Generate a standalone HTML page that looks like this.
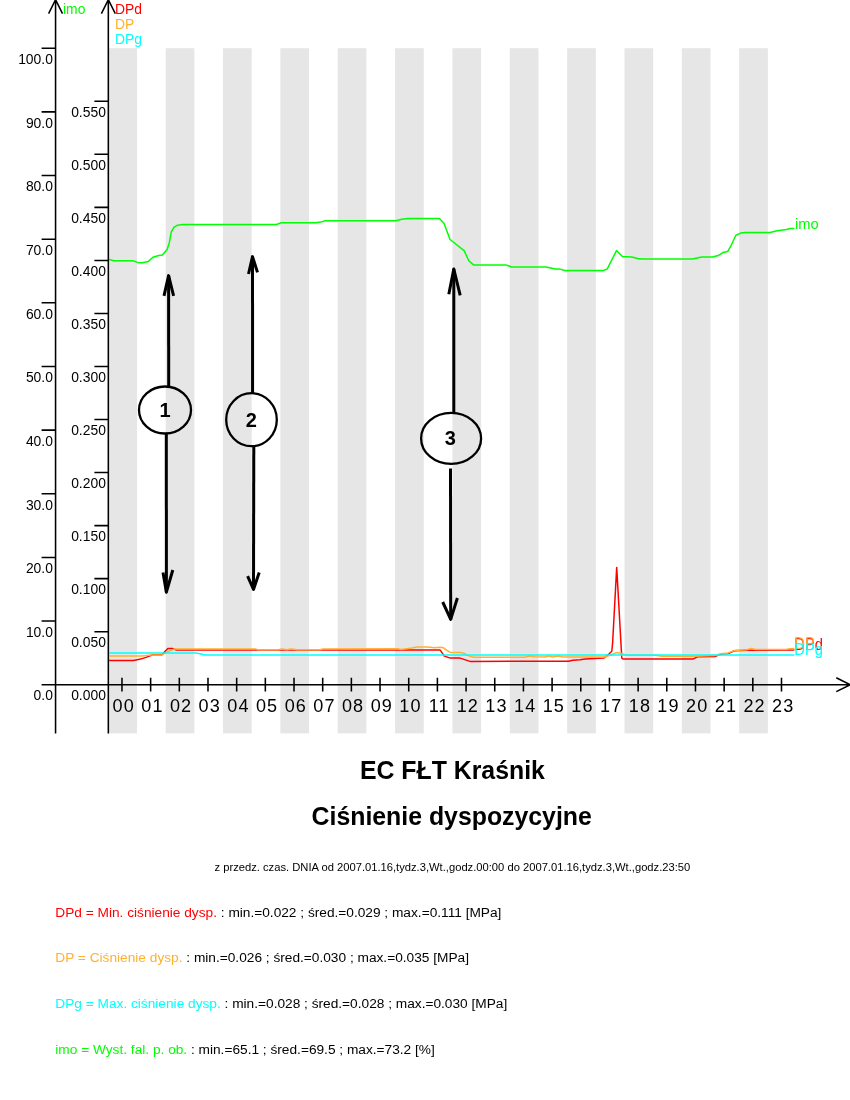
<!DOCTYPE html>
<html lang="pl"><head><meta charset="utf-8"><title>EC FŁT Kraśnik - Ciśnienie dyspozycyjne</title>
<style>
html,body{margin:0;padding:0;background:#fff;}
body{width:850px;height:1100px;overflow:hidden;}
svg{display:block;}
text{font-family:"Liberation Sans",sans-serif;}
.ax{font-size:13.89px;fill:#000;}
.hr{font-size:18.06px;letter-spacing:1.1px;fill:#000;text-anchor:middle;}
.t{font-size:24.85px;font-weight:bold;text-anchor:middle;fill:#000;}
.s{font-size:11.19px;text-anchor:middle;fill:#000;}
.l{font-size:13.7px;fill:#000;}
.n{font-size:20px;font-weight:bold;text-anchor:middle;fill:#000;}
.k{stroke:#000;fill:none;}
</style></head><body>
<svg width="850" height="1100" viewBox="0 0 850 1100">
<rect width="850" height="1100" fill="#fff"/>

<g fill="#e6e6e6">
<rect x="108.33" y="48.2" width="28.68" height="685.2"/>
<rect x="165.68" y="48.2" width="28.68" height="685.2"/>
<rect x="223.03" y="48.2" width="28.68" height="685.2"/>
<rect x="280.38" y="48.2" width="28.68" height="685.2"/>
<rect x="337.73" y="48.2" width="28.68" height="685.2"/>
<rect x="395.08" y="48.2" width="28.68" height="685.2"/>
<rect x="452.43" y="48.2" width="28.68" height="685.2"/>
<rect x="509.78" y="48.2" width="28.68" height="685.2"/>
<rect x="567.13" y="48.2" width="28.68" height="685.2"/>
<rect x="624.48" y="48.2" width="28.68" height="685.2"/>
<rect x="681.83" y="48.2" width="28.68" height="685.2"/>
<rect x="739.18" y="48.2" width="28.68" height="685.2"/>
</g>
<g class="k" stroke-width="1.55">
<path d="M55.56,733.4V0M48.6,13.6L55.56,-0.3L62.5,13.6"/>
<path d="M108.33,733.4V0M101.4,13.6L108.33,-0.3L115.3,13.6"/>
<path d="M41.6,684.72H850.3M836.3,677.8L850.3,684.72L836.3,691.6"/>
<path d="M41.6,621.07H55.56M41.6,557.42H55.56M41.6,493.77H55.56M41.6,430.12H55.56M41.6,366.47H55.56M41.6,302.82H55.56M41.6,239.17H55.56M41.6,175.52H55.56M41.6,111.87H55.56M41.6,48.22H55.56M94.4,631.68H108.33M94.4,578.64H108.33M94.4,525.60H108.33M94.4,472.56H108.33M94.4,419.52H108.33M94.4,366.48H108.33M94.4,313.44H108.33M94.4,260.40H108.33M94.4,207.36H108.33M94.4,154.32H108.33M94.4,101.28H108.33M121.97,677.8V691.6M150.64,677.8V691.6M179.32,677.8V691.6M207.99,677.8V691.6M236.67,677.8V691.6M265.34,677.8V691.6M294.02,677.8V691.6M322.69,677.8V691.6M351.37,677.8V691.6M380.04,677.8V691.6M408.72,677.8V691.6M437.39,677.8V691.6M466.07,677.8V691.6M494.74,677.8V691.6M523.42,677.8V691.6M552.09,677.8V691.6M580.77,677.8V691.6M609.44,677.8V691.6M638.12,677.8V691.6M666.79,677.8V691.6M695.47,677.8V691.6M724.14,677.8V691.6M752.82,677.8V691.6M781.49,677.8V691.6"/>
</g>
<g class="ax" text-anchor="end">
<text x="52.9" y="700.4">0.0</text>
<text x="52.9" y="636.8">10.0</text>
<text x="52.9" y="573.1">20.0</text>
<text x="52.9" y="509.5">30.0</text>
<text x="52.9" y="445.8">40.0</text>
<text x="52.9" y="382.2">50.0</text>
<text x="52.9" y="318.5">60.0</text>
<text x="52.9" y="254.9">70.0</text>
<text x="52.9" y="191.2">80.0</text>
<text x="52.9" y="127.6">90.0</text>
<text x="52.9" y="63.9">100.0</text>
<text x="105.9" y="700.4">0.000</text>
<text x="105.9" y="647.4">0.050</text>
<text x="105.9" y="594.3">0.100</text>
<text x="105.9" y="541.3">0.150</text>
<text x="105.9" y="488.3">0.200</text>
<text x="105.9" y="435.2">0.250</text>
<text x="105.9" y="382.2">0.300</text>
<text x="105.9" y="329.1">0.350</text>
<text x="105.9" y="276.1">0.400</text>
<text x="105.9" y="223.1">0.450</text>
<text x="105.9" y="170.0">0.500</text>
<text x="105.9" y="117.0">0.550</text>
</g>
<g class="hr">
<text x="123.7" y="711.6">00</text>
<text x="152.4" y="711.6">01</text>
<text x="181.1" y="711.6">02</text>
<text x="209.7" y="711.6">03</text>
<text x="238.4" y="711.6">04</text>
<text x="267.1" y="711.6">05</text>
<text x="295.8" y="711.6">06</text>
<text x="324.4" y="711.6">07</text>
<text x="353.1" y="711.6">08</text>
<text x="381.8" y="711.6">09</text>
<text x="410.5" y="711.6">10</text>
<text x="439.1" y="711.6">11</text>
<text x="467.8" y="711.6">12</text>
<text x="496.5" y="711.6">13</text>
<text x="525.2" y="711.6">14</text>
<text x="553.8" y="711.6">15</text>
<text x="582.5" y="711.6">16</text>
<text x="611.2" y="711.6">17</text>
<text x="639.9" y="711.6">18</text>
<text x="668.5" y="711.6">19</text>
<text x="697.2" y="711.6">20</text>
<text x="725.9" y="711.6">21</text>
<text x="754.6" y="711.6">22</text>
<text x="783.2" y="711.6">23</text>
</g>
<g class="ax"><text x="63" y="13.6" fill="#00ff00" style="fill:#00ff00">imo</text><text x="115.1" y="13.6" style="fill:#ff0000">DPd</text><text x="115.1" y="28.7" style="fill:#ffb030">DP</text><text x="115.1" y="43.7" style="fill:#00ffff">DPg</text></g>
<g fill="none" stroke-width="1.5" stroke-linejoin="round">
<polyline stroke="#ff0000" points="109.0,660.4 133.5,660.4 140.6,659.1 145.9,657.4 152.9,654.7 161.8,654.7 164.4,652.1 167.9,648.4 172.4,648.4 175.9,649.9 440.0,649.9 444.4,656.1 449.7,657.9 459.4,657.9 470.0,661.4 568.5,661.3 572.9,660.3 580.0,659.8 585.3,659.1 594.1,658.4 603.8,658.1 608.2,654.7 611.8,651.2 612.6,643.2 616.7,567.4 621.8,658.2 623.2,659.1 692.9,659.1 697.4,656.8 715.0,656.5 720.3,654.4 728.2,653.5 734.4,650.8 746.8,650.3 794.4,650.1"/>
<polyline stroke="#ffb030" points="109.0,655.9 142.4,655.9 151.2,655.1 162.6,654.7 168.8,651.2 174.1,649.1 255.9,649.1 258.0,649.8 278.0,649.8 282.0,649.0 287.0,649.8 291.0,649.0 297.0,649.8 320.0,649.8 323.0,649.0 397.6,648.7 401.2,649.4 411.8,648.0 417.0,647.1 427.6,647.1 434.7,647.8 440.0,647.3 443.5,647.8 447.0,650.3 450.6,652.6 460.3,652.6 464.7,653.6 468.2,655.6 473.5,657.2 524.7,657.2 529.7,655.9 534.1,656.8 544.7,657.0 549.1,656.1 552.6,657.0 557.9,656.1 563.2,657.0 604.7,657.0 611.8,654.7 616.7,652.4 622.4,653.8 625.9,655.2 655.0,655.2 662.0,656.3 693.0,656.3 715.0,655.6 720.3,653.8 728.2,652.9 734.4,650.6 746.8,649.8 751.2,648.4 755.6,649.5 785.6,649.4 790.0,648.7 794.4,648.7"/>
<polyline stroke="#00ffff" points="109.0,652.9 195.3,652.9 198.8,653.6 205.0,655.0 794.4,655.0"/>
<polyline stroke="#00ff00" points="109.0,259.5 114.1,260.7 132.9,260.7 137.6,262.4 142.4,262.8 148.2,261.6 152.9,257.2 158.8,255.5 162.4,255.1 167.1,249.4 169.4,242.4 171.3,231.8 174.1,227.1 177.6,225.2 182.4,224.5 276.5,224.5 281.2,222.8 315.9,222.8 320.6,222.1 325.3,220.7 395.9,220.7 401.8,219.3 407.6,218.6 439.4,218.6 444.1,223.5 450.0,239.5 464.1,250.6 468.8,260.7 473.5,264.9 505.9,264.9 511.8,267.0 545.9,267.0 555.3,269.1 560.0,269.1 564.7,270.5 603.5,270.5 607.1,269.1 616.5,250.6 622.4,256.5 631.8,256.9 637.6,258.4 642.4,259.1 692.4,258.9 701.8,257.1 712.4,257.1 718.2,255.6 722.9,252.6 727.6,251.6 731.2,245.3 735.9,235.2 740.6,233.1 745.3,232.4 770.0,232.6 777.1,230.8 786.5,229.5 790.0,228.5 794.4,228.5"/>
</g>
<g class="ax" style="font-size:14.7px"><text transform="translate(794.3,649.8) scale(1,1.065)" style="fill:#ff0000">DPd</text><text transform="translate(794.3,648.9) scale(1,1.065)" style="fill:#ffb030">DP</text><text transform="translate(794.3,654.9) scale(1,1.065)" style="fill:#00ffff">DPg</text><text x="795.1" y="228.9" style="fill:#00ff00">imo</text></g>
<g class="k" stroke-width="3" stroke-linejoin="round" stroke-linecap="butt">
<path d="M168.7,386.0L168.6,275.6"/><path d="M164.0,295.8L168.6,275.6L173.6,295.8"/>
<path d="M166.3,434.0L166.4,592.2"/><path d="M163.0,572.5L166.4,592.2L172.8,570.0"/>
<path d="M252.6,393.0L252.5,256.6"/><path d="M248.5,274.0L252.5,256.6L257.5,272.4"/>
<path d="M253.8,447.0L253.5,589.4"/><path d="M247.6,576.2L253.5,589.4L259.2,572.4"/>
<path d="M453.8,413.0L453.8,269.0"/><path d="M448.8,294.2L453.8,269.0L460.2,295.4"/>
<path d="M450.5,468.4L450.7,619.4"/><path d="M442.7,602.0L450.7,619.4L457.4,598.0"/>
</g>
<g class="k" stroke-width="2.3">
<ellipse cx="165" cy="410" rx="26" ry="23.5"/>
<ellipse cx="251.5" cy="419.7" rx="25.3" ry="26.5"/>
<ellipse cx="451.1" cy="438.4" rx="30" ry="25.5"/>
</g>
<g class="n"><text x="165" y="416.8">1</text><text x="251.3" y="426.7">2</text><text x="450.4" y="445.1">3</text></g>
<text class="t" x="452.4" y="779">EC FŁT Kraśnik</text>
<text class="t" x="451.7" y="825.4">Ciśnienie dyspozycyjne</text>
<text class="s" x="452.4" y="870.6">z przedz. czas. DNIA od 2007.01.16,tydz.3,Wt.,godz.00:00 do 2007.01.16,tydz.3,Wt.,godz.23:50</text>
<text class="l" x="55.3" y="916.8"><tspan style="fill:#ff0000">DPd = Min. ciśnienie dysp.</tspan> : min.=0.022 ; śred.=0.029 ; max.=0.111 [MPa]</text>
<text class="l" x="55.3" y="962.4"><tspan style="fill:#ffb030">DP = Ciśnienie dysp.</tspan> : min.=0.026 ; śred.=0.030 ; max.=0.035 [MPa]</text>
<text class="l" x="55.3" y="1007.8"><tspan style="fill:#00ffff">DPg = Max. ciśnienie dysp.</tspan> : min.=0.028 ; śred.=0.028 ; max.=0.030 [MPa]</text>
<text class="l" x="55.3" y="1053.7"><tspan style="fill:#00ff00">imo = Wyst. fal. p. ob.</tspan> : min.=65.1 ; śred.=69.5 ; max.=73.2 [%]</text>
</svg></body></html>
